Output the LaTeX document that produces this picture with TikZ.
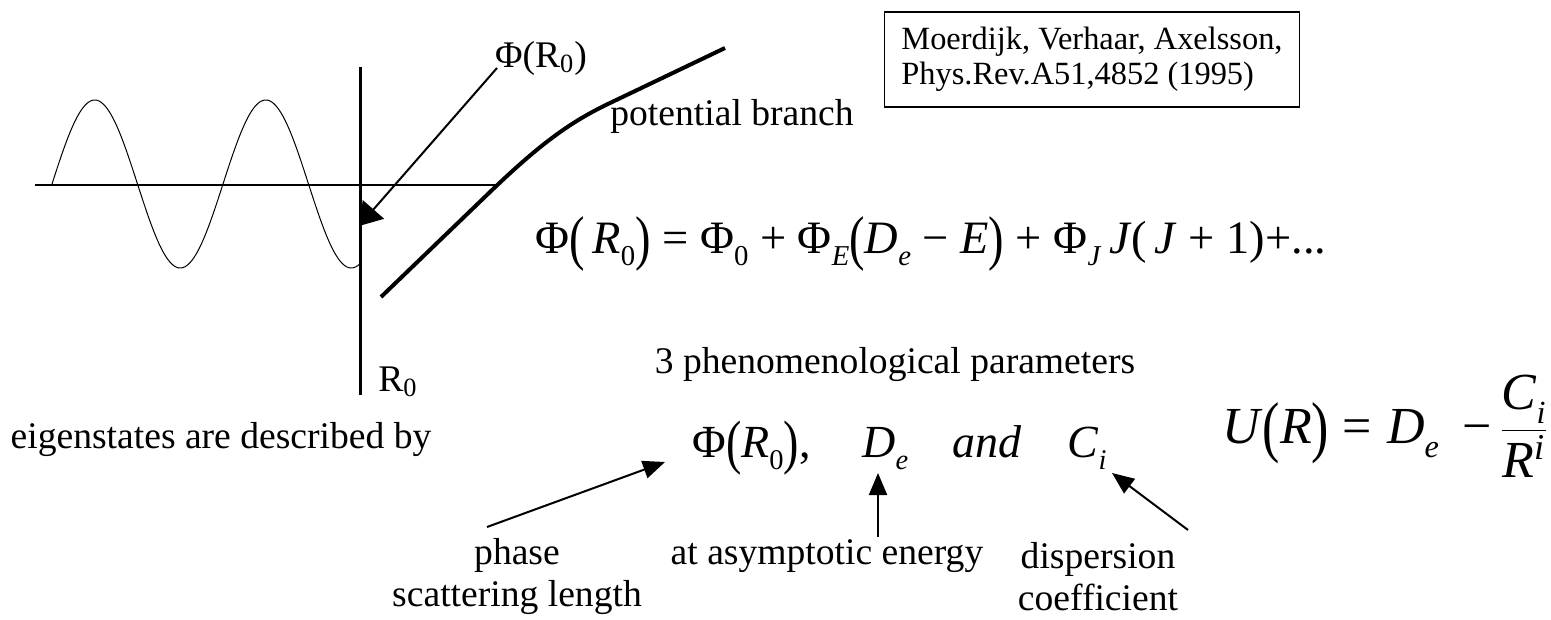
\documentclass[tikz,border=0pt]{standalone}
\usepackage{fontspec}
\usepackage{graphicx}
\setmainfont{Liberation Serif}
\usetikzlibrary{arrows.meta}
\newcommand\Sb[1]{\raisebox{-0.27em}{\scalebox{0.62}{#1}}}
\newcommand\Lo[1]{\textsubscript{#1}}
\newcommand\bigP[1]{\raisebox{-0.12em}{\scalebox{1}[1.3]{#1}}}
\begin{document}
\begin{tikzpicture}[x=0.5pt,y=-0.5pt,
  txt/.style={font=\fontsize{18.8}{21}\selectfont, inner sep=0pt},
  frm/.style={font=\fontsize{23}{26}\selectfont, inner sep=0pt},
  reftxt/.style={font=\fontsize{16.2}{17.5}\selectfont, draw, line width=0.8pt, align=left, inner xsep=8.5pt, minimum height=47.5pt},
  axisline/.style={line width=1.5pt},
  arr/.style={line width=1pt, -{Triangle[length=11pt,width=9pt]}},
  bigarr/.style={line width=1pt, -{Triangle[length=11pt,width=14pt]}}
]
\useasboundingbox (0,0) rectangle (1551,620);

% wave function
\draw[line width=0.5pt] plot[domain=52:360, samples=200, smooth] (\x, {184-84*sin(2.10526*(\x-52))});
% axes
\draw[line width=1pt] (35,185) -- (497,185);
\draw[axisline] (360,67) -- (360,395);
% potential branch
\draw[line width=2pt] (381,297) -- (490,192) .. controls (540,144) and (570,122) .. (610,103) -- (725,48);

% labels
\node[txt] (phiR) at (541,58) {Φ(R\Lo{0})};
\coordinate (phiRstart) at (497,68);
\coordinate (phitip) at (359,226);
\draw[bigarr] (phiRstart) -- (phitip);

\node[txt] (pot) at (732,116) {potential branch};
\node[txt] (Rzero) at (398,382) {R\Lo{0}};

\node[reftxt] (ref) at (1092,59.5) {Moerdijk, Verhaar, Axelsson,\\Phys.Rev.A51,4852 (1995)};

% main formula
\node[frm, anchor=base west] (main) at (535,253) {\resizebox{395.5pt}{!}{Φ\bigP{(}\,\textit{R}\Sb{0}\bigP{)} = Φ\Sb{0} + Φ\Sb{\textit{E}}\bigP{(}\textit{D}\Sb{\textit{e}} − \textit{E}\bigP{)} + Φ\Sb{\textit{J}}\,\textit{J}(\,\textit{J} + 1)+...}};

\node[txt] (three) at (895,365) {3 phenomenological parameters};
\node[txt] (eig) at (221,440) {eigenstates are described by};

\node[frm, anchor=base west] (phi2) at (692,457) {Φ\bigP{(}\textit{R}\Sb{0}\bigP{)},};
\node[frm, anchor=base west] (De) at (862,457) {\textit{D}\Sb{\textit{e}}};
\node[frm, anchor=base west] (and) at (952,457) {\textit{and}};
\node[frm, anchor=base west] (Ci) at (1067,457) {\textit{C}\Sb{\textit{i}}};

\node[anchor=base west, inner sep=0pt, font=\fontsize{26}{30}\selectfont] (U) at (1222,443) {\textit{U}\bigP{(}\textit{R}\bigP{)}\hspace{0.25em}=\hspace{0.3em}\textit{D}\Sb{\textit{e}}\hspace{0.45em}−\hspace{0.15em}$\displaystyle\frac{\mbox{\itshape C\Sb{i}}}{\mbox{\itshape R\textsuperscript{i}}}$};

\node[txt, align=center] (phase) at (517,577) {phase\\scattering length};
\node[txt] (asym) at (827,556) {at asymptotic energy};
\node[txt, align=center] (disp) at (1098,577) {dispersion\\coefficient};

\coordinate (phaseS) at (487,527);
\coordinate (phaseT) at (665,462);
\draw[arr] (phaseS) -- (phaseT);
\coordinate (deS) at (878,537);
\coordinate (deT) at (878,473);
\draw[arr] (deS) -- (deT);
\coordinate (ciS) at (1188,530);
\coordinate (ciT) at (1112,473);
\draw[arr] (ciS) -- (ciT);
\end{tikzpicture}
\end{document}
